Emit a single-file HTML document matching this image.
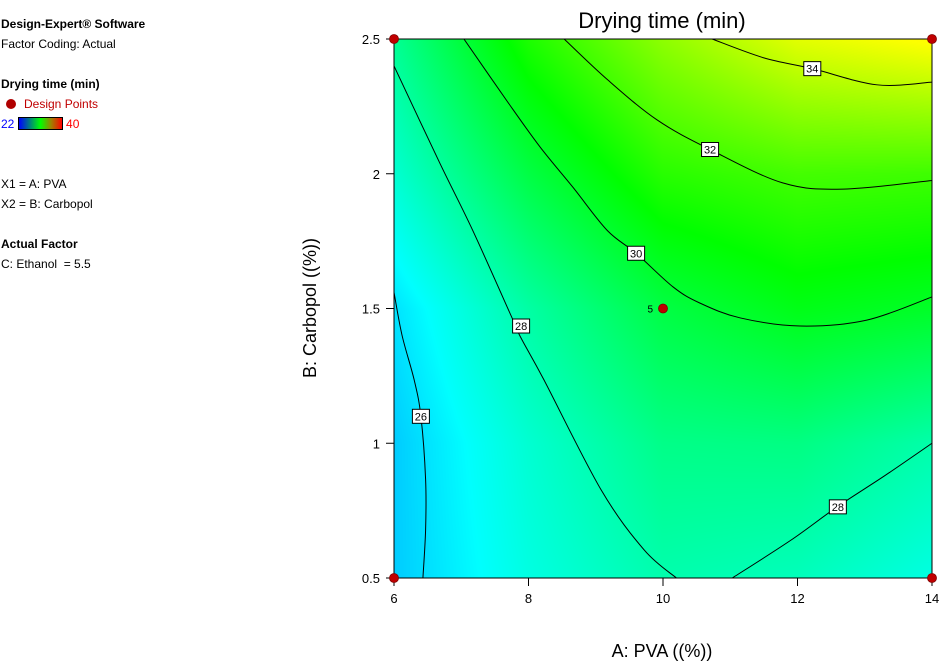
<!DOCTYPE html>
<html><head><meta charset="utf-8">
<style>
body{margin:0;background:#fff;width:941px;height:662px;overflow:hidden;position:relative;font-family:"Liberation Sans","DejaVu Sans",sans-serif}
#bg{position:absolute;left:394px;top:39px}
svg{position:absolute;left:0;top:0}
.leg{position:absolute;left:1px;font-size:12px;color:#000;white-space:nowrap}
.b{font-weight:bold}
</style></head><body>
<div class="leg b" style="top:17px">Design-Expert® Software</div>
<div class="leg" style="top:37px">Factor Coding: Actual</div>
<div class="leg b" style="top:77px">Drying time (min)</div>
<div class="leg" style="top:97px;left:6px;color:#c00000"><span style="display:inline-block;width:10px;height:10px;border-radius:50%;background:#b00000;vertical-align:-1px;margin-right:8px"></span>Design Points</div>
<div class="leg" style="top:117px"><span style="color:#0000ff">22</span> <span style="display:inline-block;width:43px;height:11px;border:1px solid #000;vertical-align:-2px;background:linear-gradient(to right,#0000ff,#00ff00 50%,#a08000 75%,#ff0000)"></span> <span style="color:#ff0000">40</span></div>
<div class="leg" style="top:177px">X1 = A: PVA</div>
<div class="leg" style="top:197px">X2 = B: Carbopol</div>
<div class="leg b" style="top:237px">Actual Factor</div>
<div class="leg" style="top:257px">C: Ethanol&nbsp; = 5.5</div>
<canvas id="bg" width="538" height="539"></canvas>
<svg id="chart" width="941" height="662"></svg>
<script>
const gridA=[6,8,10,12,14];
const gridB=[0.5,1,1.5,2,2.5];
const gridVals=[
 [25.6,27.0,27.95,27.7,27.0],
 [25.6,27.3,28.6,28.7,28.0],
 [26.0,28.1,29.8,30.6,30.3],
 [27.3,29.8,31.7,32.2,32.1],
 [28.4,31.5,33.5,35.0,35.6]];
const contourLevels=["26","28","28","30","32","34"];
const c26=[[6,1.56],[6.12,1.4],[6.3,1.235],[6.4,1.1],[6.47,0.865],[6.47,0.68],[6.43,0.5]];
const c28a=[[6,2.4],[6.68,2.04],[7.17,1.79],[7.77,1.457],[7.89,1.39],[8.23,1.235],[9.08,0.827],[9.72,0.604],[10.2,0.5]];
const c28b=[[11.03,0.5],[11.9,0.64],[12.59,0.764],[13.3,0.88],[14,1.0]];
const c30=[[7.04,2.5],[7.68,2.27],[8.17,2.1],[8.66,1.95],[9.17,1.79],[9.6,1.705],[10.15,1.58],[10.55,1.52],[11.15,1.465],[12.04,1.435],[13.03,1.457],[14,1.543]];
const c32=[[8.53,2.5],[9.17,2.35],[9.91,2.2],[10.7,2.09],[11.78,1.966],[12.68,1.943],[14,1.975]];
const c34=[[10.73,2.5],[11.5,2.43],[12.22,2.39],[13.18,2.33],[14,2.34]];
const contourLabelPos=[[6.4,1.1],[7.89,1.435],[12.6,0.764],[9.6,1.705],[10.7,2.09],[12.22,2.39]];
const designPts=[[6,2.5],[14,2.5],[6,0.5],[14,0.5],[10,1.5]];
const xTicks=[6,8,10,12,14];
const yTicks=[0.5,1,1.5,2,2.5];
const yTickLabels=["0.5","1","1.5","2","2.5"];

const X0=394,X1=932,Y0=578,Y1=39;
const sx=a=>X0+(a-6)/(14-6)*(X1-X0);
const sy=b=>Y0-(b-0.5)/(2.5-0.5)*(Y0-Y1);

function val(a,b){
 let i=Math.min(3,Math.max(0,Math.floor((a-6)/2))), j=Math.min(3,Math.max(0,Math.floor((b-0.5)/0.5)));
 let ta=(a-gridA[i])/(gridA[i+1]-gridA[i]), tb=(b-gridB[j])/(gridB[j+1]-gridB[j]);
 let v00=gridVals[j][i],v10=gridVals[j][i+1],v01=gridVals[j+1][i],v11=gridVals[j+1][i+1];
 return v00*(1-ta)*(1-tb)+v10*ta*(1-tb)+v01*(1-ta)*tb+v11*ta*tb;
}
function cmap(v){
 let t=(v-22)/18*4; t=Math.max(0,Math.min(4,t));
 const s=[[0,0,255],[0,255,255],[0,255,0],[255,255,0],[255,0,0]];
 let k=Math.min(3,Math.floor(t)),f=t-k;
 return s[k].map((c,q)=>Math.round(c+(s[k+1][q]-c)*f));
}
const cv=document.getElementById('bg'),ctx=cv.getContext('2d');
const img=ctx.createImageData(cv.width,cv.height);
for(let y=0;y<cv.height;y++)for(let x=0;x<cv.width;x++){
 const a=6+x/(cv.width-1)*8,b=2.5-y/(cv.height-1)*2;
 const c=cmap(val(a,b)),p=(y*cv.width+x)*4;
 img.data[p]=c[0];img.data[p+1]=c[1];img.data[p+2]=c[2];img.data[p+3]=255;
}
ctx.putImageData(img,0,0);

const svg=document.getElementById('chart'),NS='http://www.w3.org/2000/svg';
function mk(tag,attrs,parent){const e=document.createElementNS(NS,tag);for(const k in attrs)e.setAttribute(k,attrs[k]);(parent||svg).appendChild(e);return e;}
function smooth(pts){
 const P=pts.map(p=>[sx(p[0]),sy(p[1])]);let d='M'+P[0][0]+','+P[0][1];
 for(let i=0;i<P.length-1;i++){const p0=P[i-1]||P[i],p1=P[i],p2=P[i+1],p3=P[i+2]||p2;
  d+=' C'+(p1[0]+(p2[0]-p0[0])/6)+','+(p1[1]+(p2[1]-p0[1])/6)+' '+(p2[0]-(p3[0]-p1[0])/6)+','+(p2[1]-(p3[1]-p1[1])/6)+' '+p2[0]+','+p2[1];}
 return d;
}
const lines=[c26,c28a,c28b,c30,c32,c34];
lines.forEach((l,i)=>{
 const p=mk('path',{d:smooth(l),fill:'none',stroke:'#000','stroke-width':1});
 
 
});
contourLabelPos.forEach((p,i)=>{
 const g=mk('g',{});
 
 
 mk('rect',{x:sx(p[0])-8.5,y:sy(p[1])-7,width:17,height:14,fill:'#fff',stroke:'#000','stroke-width':1},g);
 const t=mk('text',{x:sx(p[0]),y:sy(p[1])+4,'text-anchor':'middle','font-size':11},g);t.textContent=contourLevels[i];
});
const fr=mk('rect',{x:X0,y:Y1,width:X1-X0,height:Y0-Y1,fill:'none',stroke:'#000','stroke-width':1});

xTicks.forEach(v=>{
 const l=mk('line',{x1:sx(v),x2:sx(v),y1:Y0,y2:Y0+8,stroke:'#000'});
 
 const t=mk('text',{x:sx(v),y:Y0+25,'text-anchor':'middle','font-size':13});t.textContent=String(v);
 
});
yTicks.forEach((v,i)=>{
 const l=mk('line',{x1:X0-8,x2:X0,y1:sy(v),y2:sy(v),stroke:'#000'});
 
 const t=mk('text',{x:X0-14,y:sy(v)+5,'text-anchor':'end','font-size':13});t.textContent=yTickLabels[i];
 
});
designPts.forEach((p,i)=>{
 const c=mk('circle',{cx:sx(p[0]),cy:sy(p[1]),r:4.5,fill:'#c00000',stroke:'#800000','stroke-width':0.8});
 
});
const cp=designPts[4];
const lt=mk('text',{x:sx(cp[0])-10,y:sy(cp[1])+4,'text-anchor':'end','font-size':10});lt.textContent='5';

const tt=mk('text',{x:662,y:28,'text-anchor':'middle','font-size':22});tt.textContent='Drying time (min)';

const xt=mk('text',{x:662,y:657,'text-anchor':'middle','font-size':18});xt.textContent='A: PVA ((%))';

const yt=mk('text',{x:0,y:0,'text-anchor':'middle','font-size':18,transform:'translate(316,308) rotate(-90)'});yt.textContent='B: Carbopol  ((%))';

</script>
</body></html>
